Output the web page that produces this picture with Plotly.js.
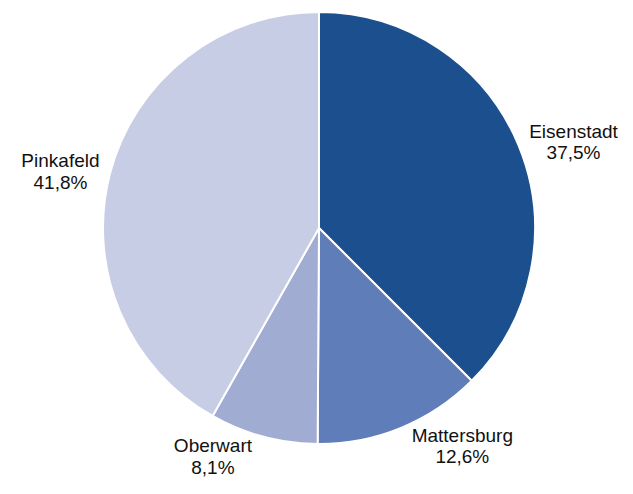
<!DOCTYPE html>
<html>
<head>
<meta charset="utf-8">
<script src="https://cdn.plot.ly/plotly-3.0.1.min.js"></script>
<style>html,body{margin:0;padding:0;background:#fff;}#chart{width:633px;height:494px;}</style>
</head>
<body>
<div id="chart"></div>
<script>
const labels = ["Eisenstadt", "Mattersburg", "Oberwart", "Pinkafeld"];
const values = [37.5, 12.6, 8.1, 41.8];
const colors = ["#1b4f8d", "#5f7db8", "#a0acd2", "#c8cde6"];

Plotly.newPlot("chart", [{
  type: "pie",
  labels: labels,
  values: values,
  sort: false,
  direction: "clockwise",
  rotation: 0,
  marker: {colors: colors, line: {color: "#ffffff", width: 2}},
  textposition: "outside",
  texttemplate: '<span style="font-size:19px">%{label}</span><br><span style="font-size:19px">%{percent:.1%}</span>',
  textfont: {family: "Liberation Sans, Arial, sans-serif", size: 16.5, color: "#111111"},
  hoverinfo: "none",
  showlegend: false
}], {
  width: 633, height: 494,
  margin: {l: 103, r: 98, t: 12, b: 50},
  paper_bgcolor: "#ffffff",
  separators: ", ",
  showlegend: false
}, {displayModeBar: false, staticPlot: true});
</script>
</body>
</html>
